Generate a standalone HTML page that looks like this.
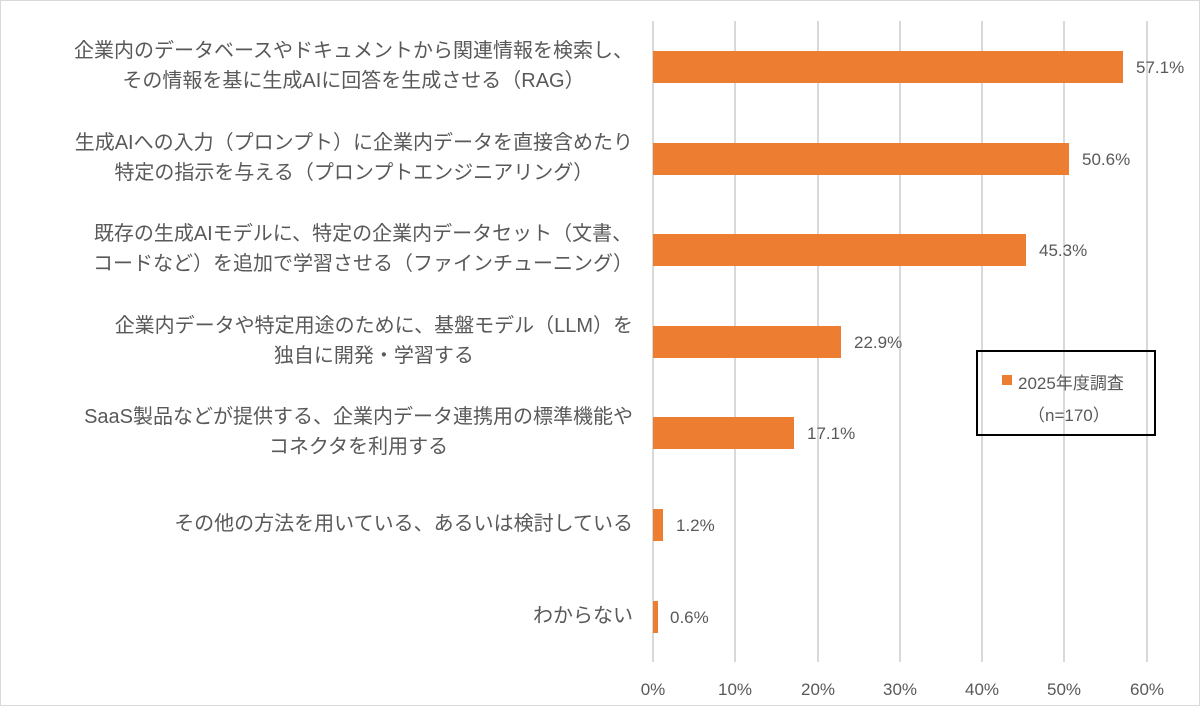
<!DOCTYPE html>
<html><head><meta charset="utf-8"><style>
body{margin:0;background:#fff}
#c{position:relative;width:1198px;height:704px;border:1px solid #d9d9d9;overflow:hidden;font-family:"Liberation Sans","Noto Sans CJK JP",sans-serif;color:#595959}
.g{position:absolute;top:20px;height:641px;width:2px;background:#d9d9d9}
.b{position:absolute;left:652px;height:32px;background:#ed7d31}
.v{position:absolute;font-size:17px;line-height:20px}
.l{position:absolute;right:566px;text-align:center;font-size:20px;line-height:30px;white-space:nowrap}
.t{position:absolute;top:679px;font-size:17px;width:60px;margin-left:-30px;text-align:center}
#lg{position:absolute;left:975px;top:349px;width:180px;height:86px;border:2px solid #000;box-sizing:border-box;font-size:17px}
</style></head><body><div id="c">
<div class="g" style="left:651px"></div><div class="g" style="left:733px"></div><div class="g" style="left:816px"></div><div class="g" style="left:898px"></div><div class="g" style="left:980px"></div><div class="g" style="left:1062px"></div><div class="g" style="left:1145px"></div>
<div class="t" style="left:652px">0%</div><div class="t" style="left:734px">10%</div><div class="t" style="left:817px">20%</div><div class="t" style="left:899px">30%</div><div class="t" style="left:981px">40%</div><div class="t" style="left:1063px">50%</div><div class="t" style="left:1146px">60%</div>

<div class="b" style="top:50px;width:470px"></div><div class="v" style="left:1135px;top:57px">57.1%</div>
<div class="b" style="top:142px;width:416px"></div><div class="v" style="left:1081px;top:149px">50.6%</div>
<div class="b" style="top:233px;width:373px"></div><div class="v" style="left:1038px;top:240px">45.3%</div>
<div class="b" style="top:325px;width:188px"></div><div class="v" style="left:853px;top:332px">22.9%</div>
<div class="b" style="top:416px;width:141px"></div><div class="v" style="left:806px;top:423px">17.1%</div>
<div class="b" style="top:508px;width:10px"></div><div class="v" style="left:675px;top:515px">1.2%</div>
<div class="b" style="top:600px;width:5px"></div><div class="v" style="left:669px;top:607px">0.6%</div>

<div class="l" style="top:35px">企業内のデータベースやドキュメントから関連情報を検索し、<br>その情報を基に生成AIに回答を生成させる（RAG）</div>
<div class="l" style="top:127px">生成AIへの入力（プロンプト）に企業内データを直接含めたり<br>特定の指示を与える（プロンプトエンジニアリング）</div>
<div class="l" style="top:218px">既存の生成AIモデルに、特定の企業内データセット（文書、<br>コードなど）を追加で学習させる（ファインチューニング）</div>
<div class="l" style="top:310px">企業内データや特定用途のために、基盤モデル（LLM）を<br>独自に開発・学習する</div>
<div class="l" style="top:401px">SaaS製品などが提供する、企業内データ連携用の標準機能や<br>コネクタを利用する</div>
<div class="l" style="top:508px">その他の方法を用いている、あるいは検討している</div>
<div class="l" style="top:600px">わからない</div>

<div id="lg"><div style="position:absolute;left:24px;top:23px;width:10px;height:10px;background:#ed7d31"></div><div style="position:absolute;left:40px;top:17px">2025年度調査</div><div style="position:absolute;left:50px;top:49px">（n=170）</div></div>
</div></body></html>
